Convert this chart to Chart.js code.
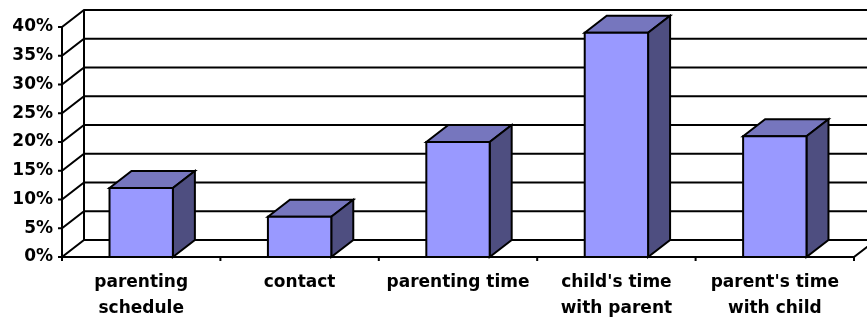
<!DOCTYPE html>
<html>
<head>
<meta charset="utf-8">
<script src="https://cdn.jsdelivr.net/npm/chart.js@4"></script>
<style>
  html, body { margin: 0; background: #fff; }
  #wrap { width: 867px; height: 317px; }
</style>
</head>
<body>
<div id="wrap"><canvas id="c"></canvas></div>
<script>
const categories = [
  ["parenting", "schedule"],
  "contact",
  "parenting time",
  ["child's time", "with parent"],
  ["parent's time", "with child"],
];
const shares = [12, 7, 20, 39, 21]; // percent
const yMax = 40;
const yStep = 5;

// depth of the fake 3d floor / back wall
const DX = 22, DY = -17;
const font = { family: "'DejaVu Sans'", size: 17, weight: "bold" };

function poly(ctx, pts, fill) {
  ctx.beginPath();
  ctx.moveTo(pts[0][0], pts[0][1]);
  pts.slice(1).forEach(p => ctx.lineTo(p[0], p[1]));
  ctx.closePath();
  ctx.fillStyle = fill;
  ctx.fill();
  ctx.stroke();
}

const box3d = {
  id: "box3d",
  beforeDatasetsDraw(chart) {
    const { ctx, chartArea: a, scales: { x, y } } = chart;
    ctx.save();
    ctx.strokeStyle = "#000";
    ctx.lineWidth = 2;
    ctx.beginPath();
    y.ticks.forEach(t => {
      const py = y.getPixelForValue(t.value);
      ctx.moveTo(a.left - 4, py);
      ctx.lineTo(a.left, py);
      ctx.lineTo(a.left + DX, py + DY);
      ctx.lineTo(a.right + DX, py + DY);
    });
    ctx.moveTo(a.left, a.top);
    ctx.lineTo(a.left, a.bottom);
    ctx.moveTo(a.left + DX, a.top + DY);
    ctx.lineTo(a.left + DX, a.bottom + DY);
    ctx.moveTo(a.left, a.bottom);
    ctx.lineTo(a.right, a.bottom);
    ctx.lineTo(a.right + DX, a.bottom + DY);
    for (let i = 0; i <= categories.length; i++) {
      const px = x.getPixelForValue(i - 0.5);
      ctx.moveTo(px, a.bottom);
      ctx.lineTo(px, a.bottom + 4);
    }
    ctx.stroke();
    ctx.restore();
  },
  afterDatasetsDraw(chart) {
    const ctx = chart.ctx;
    ctx.save();
    ctx.strokeStyle = "#000";
    ctx.lineWidth = 2;
    ctx.lineJoin = "miter";
    chart.getDatasetMeta(0).data.forEach(bar => {
      const { x: cx, y: top, base, width } = bar.getProps(["x", "y", "base", "width"], true);
      const l = cx - width / 2, r = cx + width / 2;
      poly(ctx, [[l, top], [l + DX, top + DY], [r + DX, top + DY], [r, top]], "#7676BE");
      poly(ctx, [[r, top], [r + DX, top + DY], [r + DX, base + DY], [r, base]], "#4E4E80");
      poly(ctx, [[l, top], [r, top], [r, base], [l, base]], "#9999FF");
    });
    ctx.restore();
  },
};

new Chart(document.getElementById("c"), {
  type: "bar",
  data: {
    labels: categories,
    datasets: [{
      data: shares,
      backgroundColor: "transparent",
      borderWidth: 0,
      barPercentage: 0.4,
      categoryPercentage: 1,
    }],
  },
  options: {
    responsive: true,
    maintainAspectRatio: false,
    animation: false,
    events: [],
    layout: { padding: { top: 27, right: 13, left: 0, bottom: 0 } },
    plugins: { legend: { display: false }, tooltip: { enabled: false } },
    scales: {
      x: {
        grid: { display: false, drawTicks: false },
        border: { display: false },
        ticks: {
          color: "#000",
          font: { ...font, lineHeight: 1.55 },
          padding: 12,
          autoSkip: false,
          maxRotation: 0,
        },
        afterFit(s) { s.height = 60; },
      },
      y: {
        min: 0,
        max: yMax,
        grid: { display: false, drawTicks: false },
        border: { display: false },
        ticks: {
          stepSize: yStep,
          color: "#000",
          font,
          padding: 9,
          callback: v => v + "%",
        },
        afterFit(s) { s.width = 62; },
      },
    },
  },
  plugins: [box3d],
});
</script>
</body>
</html>
